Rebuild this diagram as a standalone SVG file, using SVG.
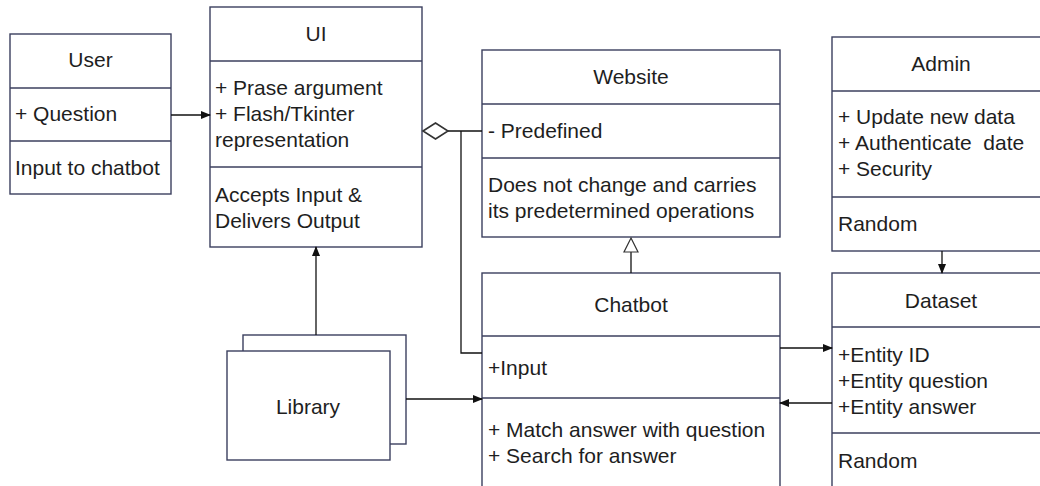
<svg xmlns="http://www.w3.org/2000/svg" width="1040" height="486" viewBox="0 0 1040 486">
<style>
.box{fill:#fff;stroke:#3b3f5e;stroke-width:1.4}
.div{stroke:#3b3f5e;stroke-width:1.4}
text{font-family:"Liberation Sans",Arial,sans-serif;font-size:21px;fill:#1e1e1e;white-space:pre}
.c{text-anchor:middle}
.ln{fill:none;stroke:#111;stroke-width:1.3}
</style>
<defs>
<marker id="ah" markerWidth="10" markerHeight="8" refX="9" refY="4" orient="auto" markerUnits="userSpaceOnUse">
<path d="M0,0 L10,4 L0,8 Z" fill="#111"/>
</marker>
</defs>
<rect width="1040" height="486" fill="#fff"/>
<g id="user">
<rect class="box" x="10" y="34" width="161" height="160"/>
<line class="div" x1="10" y1="88" x2="171" y2="88"/>
<line class="div" x1="10" y1="141" x2="171" y2="141"/>
<text class="c" x="90.5" y="67">User</text>
<text x="15" y="121">+ Question</text>
<text x="15" y="175">Input to chatbot</text>
</g>
<g id="ui">
<rect class="box" x="210" y="7" width="212" height="240"/>
<line class="div" x1="210" y1="61" x2="422" y2="61"/>
<line class="div" x1="210" y1="167" x2="422" y2="167"/>
<text class="c" x="316" y="41">UI</text>
<text x="215" y="95">+ Prase argument</text>
<text x="215" y="121">+ Flash/Tkinter</text>
<text x="215" y="147">representation</text>
<text x="215" y="202">Accepts Input &amp;</text>
<text x="215" y="228">Delivers Output</text>
</g>
<g id="website">
<rect class="box" x="482" y="50" width="298" height="187"/>
<line class="div" x1="482" y1="104" x2="780" y2="104"/>
<line class="div" x1="482" y1="158" x2="780" y2="158"/>
<text class="c" x="631" y="84">Website</text>
<text x="488" y="138">- Predefined</text>
<text x="488" y="192">Does not change and carries</text>
<text x="488" y="218">its predetermined operations</text>
</g>
<g id="admin">
<rect class="box" x="832" y="37" width="220" height="214"/>
<line class="div" x1="832" y1="91" x2="1052" y2="91"/>
<line class="div" x1="832" y1="197" x2="1052" y2="197"/>
<text class="c" x="941" y="71">Admin</text>
<text x="838" y="124">+ Update new data</text>
<text x="838" y="150">+ Authenticate  date</text>
<text x="838" y="176">+ Security</text>
<text x="838" y="231">Random</text>
</g>
<g id="chatbot">
<rect class="box" x="482" y="273" width="298" height="230"/>
<line class="div" x1="482" y1="336" x2="780" y2="336"/>
<line class="div" x1="482" y1="398" x2="780" y2="398"/>
<text class="c" x="631" y="312">Chatbot</text>
<text x="488" y="375">+Input</text>
<text x="488" y="437">+ Match answer with question</text>
<text x="488" y="463">+ Search for answer</text>
</g>
<g id="dataset">
<rect class="box" x="832" y="273" width="220" height="230"/>
<line class="div" x1="832" y1="327" x2="1052" y2="327"/>
<line class="div" x1="832" y1="433" x2="1052" y2="433"/>
<text class="c" x="941" y="308">Dataset</text>
<text x="838" y="362">+Entity ID</text>
<text x="838" y="388">+Entity question</text>
<text x="838" y="414">+Entity answer</text>
<text x="838" y="468">Random</text>
</g>
<g id="library">
<rect class="box" x="243" y="335" width="163" height="109"/>
<rect class="box" x="227" y="351" width="163" height="109"/>
<text class="c" x="308" y="414">Library</text>
</g>
<g id="connectors">
<line class="ln" x1="171" y1="115" x2="210" y2="115" marker-end="url(#ah)"/>
<path class="ln" d="M448,131 H482"/>
<path class="ln" d="M482,353 H461 V131"/>
<path d="M423,131 L435.5,123 L448,131 L435.5,139 Z" fill="#fff" stroke="#333" stroke-width="1.6"/>
<line class="ln" x1="631" y1="273" x2="631" y2="252"/>
<path d="M631,238 L638,252 L624,252 Z" fill="#fff" stroke="#333" stroke-width="1.2"/>
<line class="ln" x1="942" y1="251" x2="942" y2="273" marker-end="url(#ah)"/>
<line class="ln" x1="316" y1="335" x2="316" y2="247" marker-end="url(#ah)"/>
<line class="ln" x1="406" y1="399" x2="482" y2="399" marker-end="url(#ah)"/>
<line class="ln" x1="780" y1="348" x2="832" y2="348" marker-end="url(#ah)"/>
<line class="ln" x1="832" y1="403" x2="780" y2="403" marker-end="url(#ah)"/>
</g>
</svg>
